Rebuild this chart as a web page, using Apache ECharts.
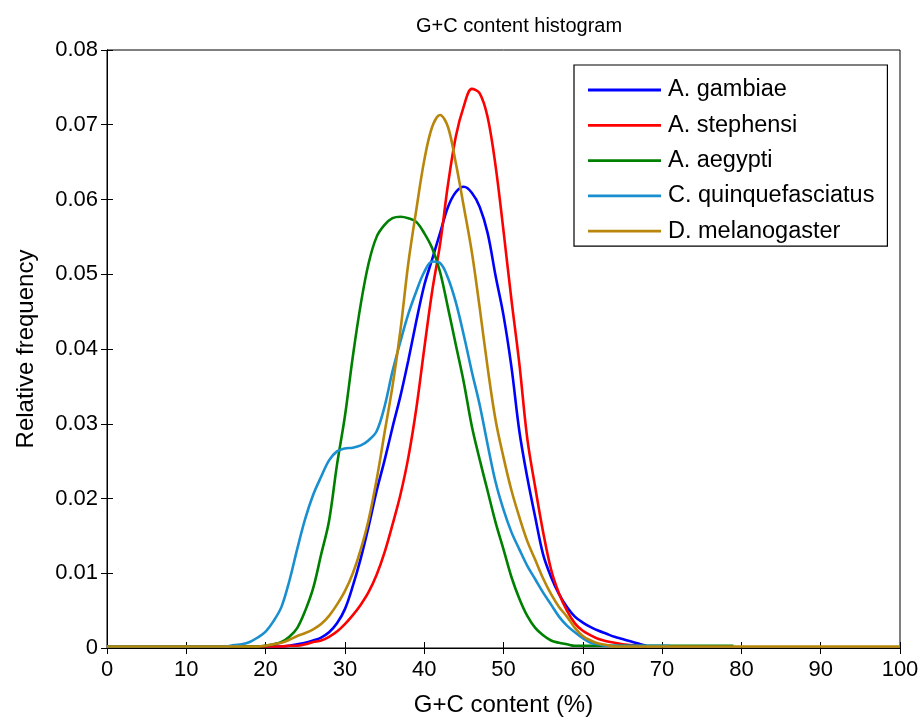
<!DOCTYPE html>
<html>
<head>
<meta charset="utf-8">
<script src="https://cdn.jsdelivr.net/npm/echarts@6/dist/echarts.min.js"></script>
<style>
html,body{margin:0;padding:0;background:#fff;}
#chart{width:922px;height:719px;}
</style>
</head>
<body>
<div id="chart"></div>
<script>
var chartTitle = 'G+C content histogram';
var xAxisName = 'G+C content (%)';
var yAxisName = 'Relative frequency';
var seriesNames = ['A. gambiae', 'A. stephensi', 'A. aegypti', 'C. quinquefasciatus', 'D. melanogaster'];
var seriesColors = ['#0000ff', '#ff0000', '#008000', '#1a8fd0', '#b8860b'];

// G+C content (%) positions, 0..100
var gcContent = [];
for (var i = 0; i <= 100; i++) gcContent.push(i);

// A. gambiae (index 0 = 0%)
var gambiae = [
  0.0002,0.0002,0.0002,0.0002,0.0002,0.0002,0.0002,0.0002,0.0002,0.0002,
  0.0002,0.0002,0.0002,0.0002,0.0002,0.0002,0.0002,0.0002,0.0002,0.0002,
  0.0002,0.0002,0.0002,0.0003,0.0005,0.0007,0.0010,0.0014,0.0021,0.0033,
  0.0052,0.0083,0.0120,0.0163,0.0210,0.0251,0.0295,0.0337,0.0385,0.0437,
  0.0485,0.0520,0.0555,0.0590,0.0610,0.0617,0.0609,0.0590,0.0555,0.0498,
  0.0445,0.0376,0.0290,0.0228,0.0175,0.0125,0.0095,0.0072,0.0055,0.0042,
  0.0034,0.0028,0.0023,0.0019,0.0015,0.0012,0.0009,0.0006,0.0003
];
// A. stephensi
var stephensi = [
  0.0002,0.0002,0.0002,0.0002,0.0002,0.0002,0.0002,0.0002,0.0002,0.0002,
  0.0002,0.0002,0.0002,0.0002,0.0002,0.0002,0.0002,0.0002,0.0002,0.0002,
  0.0002,0.0002,0.0002,0.0003,0.0003,0.0005,0.0008,0.0010,0.0015,0.0022,
  0.0032,0.0044,0.0058,0.0075,0.0098,0.0128,0.0165,0.0205,0.0255,0.0320,
  0.0400,0.0477,0.0540,0.0620,0.0685,0.0725,0.0748,0.0742,0.0710,0.0645,
  0.0558,0.0466,0.0380,0.0280,0.0215,0.0155,0.0105,0.0073,0.0050,0.0033,
  0.0023,0.0017,0.0012,0.0009,0.0007,0.0005,0.0004,0.0003,0.0002
];
// A. aegypti
var aegypti = [
  0.0002,0.0002,0.0002,0.0002,0.0002,0.0002,0.0002,0.0002,0.0002,0.0002,
  0.0002,0.0002,0.0002,0.0002,0.0002,0.0002,0.0002,0.0002,0.0002,0.0002,
  0.0003,0.0005,0.0008,0.0015,0.0027,0.0050,0.0080,0.0125,0.0170,0.0245,
  0.0310,0.0390,0.0460,0.0515,0.0550,0.0566,0.0575,0.0577,0.0575,0.0570,
  0.0555,0.0535,0.0503,0.0455,0.0405,0.0355,0.0297,0.0252,0.0210,0.0168,
  0.0132,0.0095,0.0066,0.0043,0.0027,0.0017,0.0010,0.0007,0.0005,0.0003,
  0.0003,0.0003,0.0003,0.0003,0.0003,0.0003,0.0003,0.0003,0.0003,0.0003,
  0.0003,0.0003,0.0003,0.0003,0.0003,0.0003,0.0003,0.0003,0.0003,0.0003
];
// C. quinquefasciatus
var quinquefasciatus = [
  0.0002,0.0002,0.0002,0.0002,0.0002,0.0002,0.0002,0.0002,0.0002,0.0002,
  0.0002,0.0002,0.0002,0.0002,0.0002,0.0002,0.0004,0.0005,0.0008,0.0014,
  0.0022,0.0036,0.0055,0.0090,0.0133,0.0173,0.0205,0.0229,0.0251,0.0263,
  0.0267,0.0268,0.0271,0.0278,0.0290,0.0323,0.0370,0.0410,0.0447,0.0477,
  0.0503,0.0517,0.0515,0.0495,0.0462,0.0418,0.0370,0.0325,0.0272,0.0222,
  0.0185,0.0155,0.0132,0.0110,0.0092,0.0074,0.0058,0.0042,0.0030,0.0021,
  0.0013,0.0007,0.0005,0.0003,0.0003,0.0003,0.0003,0.0003,0.0003,0.0003,
  0.0003,0.0003
];
// D. melanogaster
var melanogaster = [
  0.0002,0.0002,0.0002,0.0002,0.0002,0.0002,0.0002,0.0002,0.0002,0.0002,
  0.0002,0.0002,0.0002,0.0002,0.0002,0.0002,0.0002,0.0002,0.0002,0.0002,
  0.0003,0.0005,0.0007,0.0011,0.0016,0.0020,0.0025,0.0032,0.0043,0.0058,
  0.0076,0.0100,0.0132,0.0172,0.0225,0.0288,0.0350,0.0425,0.0515,0.0586,
  0.0652,0.0697,0.0713,0.0697,0.0648,0.0590,0.0530,0.0455,0.0375,0.0305,
  0.0255,0.0211,0.0175,0.0143,0.0118,0.0093,0.0072,0.0055,0.0042,0.0027,
  0.0016,0.0010,0.0006,0.0004,0.0002,0.0002,0.0002,0.0002,0.0002,0.0002,
  0.0002,0.0002,0.0002,0.0002,0.0002,0.0002,0.0002,0.0002,0.0002,0.0002,
  0.0002,0.0002,0.0002,0.0002,0.0002,0.0002,0.0002,0.0002,0.0002,0.0002,
  0.0002,0.0002,0.0002,0.0002,0.0002,0.0002,0.0002,0.0002,0.0002,0.0002,
  0.0002
];

var seriesValues = [gambiae, stephensi, aegypti, quinquefasciatus, melanogaster];

var FONT = 'Liberation Sans';
var chart = echarts.init(document.getElementById('chart'), null, {renderer: 'canvas'});

function toPairs(vals) {
  return vals.map(function (v, i) { return [gcContent[i], v]; });
}

var series = seriesNames.map(function (name, k) {
  return {
    name: name,
    type: 'line',
    xAxisIndex: 0,
    yAxisIndex: 0,
    data: toPairs(seriesValues[k]),
    showSymbol: false,
    symbol: 'none',
    smooth: 0.35,
    lineStyle: {color: seriesColors[k], width: 2.6},
    itemStyle: {color: seriesColors[k]},
    animation: false,
    z: 2 + k
  };
});

var option = {
  backgroundColor: '#fff',
  animation: false,
  title: {
    text: chartTitle,
    left: 514, top: 11, textAlign: 'center',
    textStyle: {fontFamily: FONT, fontSize: 20, fontWeight: 'normal', color: '#000'}
  },
  grid: {
    left: 107, right: 22, top: 50, bottom: 71,
    outerBoundsMode: 'none', containLabel: false,
    show: true, borderColor: '#000', borderWidth: 1, backgroundColor: '#fff'
  },
  legend: {
    orient: 'vertical',
    left: 574, top: 65,
    padding: [13, 13, 3, 14],
    itemGap: 11.3,
    itemWidth: 73,
    itemHeight: 24,
    backgroundColor: '#fff',
    borderColor: '#000',
    borderWidth: 1.2,
    textStyle: {fontFamily: FONT, fontSize: 23.5, color: '#000', padding: [0, 0, 0, 2]},
    icon: 'path://M0,10.6 L73,10.6 L73,13.4 L0,13.4 Z',
    data: seriesNames
  },
  xAxis: [{
    type: 'value', min: 0, max: 100, interval: 10,
    name: xAxisName, nameLocation: 'middle', nameGap: 45,
    nameTextStyle: {fontFamily: FONT, fontSize: 24, color: '#000'},
    axisLine: {show: true, onZero: false, lineStyle: {color: '#000', width: 1}},
    axisTick: {show: true, inside: true, length: 6, lineStyle: {color: '#000'}},
    axisLabel: {color: '#000', fontFamily: FONT, fontSize: 22, margin: 11},
    splitLine: {show: false}
  }, {
    type: 'value', min: 0, max: 100, interval: 10, position: 'top',
    axisLine: {show: true, lineStyle: {color: '#000', width: 1}},
    axisTick: {show: true, inside: true, length: 6, lineStyle: {color: '#000'}},
    axisLabel: {show: false},
    splitLine: {show: false}
  }],
  yAxis: [{
    type: 'value', min: 0, max: 0.08, interval: 0.01,
    name: yAxisName, nameLocation: 'middle', nameGap: 69, nameRotate: 90,
    nameTextStyle: {fontFamily: FONT, fontSize: 24, color: '#000'},
    axisLine: {show: true, onZero: false, lineStyle: {color: '#000', width: 1}},
    axisTick: {show: true, inside: true, length: 6, lineStyle: {color: '#000'}},
    axisLabel: {color: '#000', fontFamily: FONT, fontSize: 22, margin: 9,
      formatter: function (v) { return v === 0 ? '0' : v.toFixed(2); }},
    splitLine: {show: false}
  }, {
    type: 'value', min: 0, max: 0.08, interval: 0.01, position: 'right',
    axisLine: {show: true, lineStyle: {color: '#000', width: 1}},
    axisTick: {show: true, inside: true, length: 6, lineStyle: {color: '#000'}},
    axisLabel: {show: false},
    splitLine: {show: false}
  }],
  series: series
};
chart.setOption(option);
</script>
</body>
</html>
